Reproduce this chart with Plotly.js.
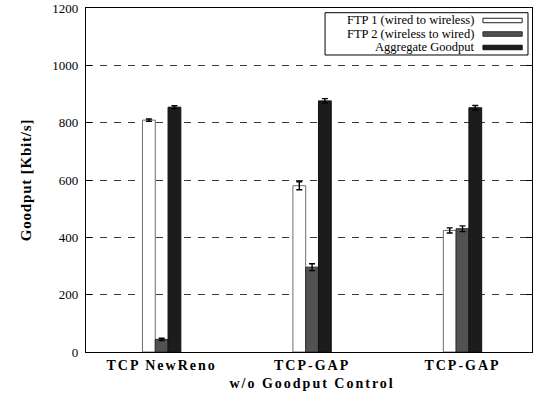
<!DOCTYPE html>
<html>
<head>
<meta charset="utf-8">
<script src="https://cdn.plot.ly/plotly-3.0.1.min.js"></script>
<style>
  html, body { margin: 0; padding: 0; background: #fff; }
  #chart { width: 538px; height: 396px; }
  .xtick text { letter-spacing: 2px; }
  .ytitle { letter-spacing: 0.8px; }
</style>
</head>
<body>
<div id="chart"></div>
<script>
// Goodput of two opposing FTP flows and their sum, per TCP variant
const categories = ["TCP NewReno", "TCP-GAP<br>w/o Goodput Control", "TCP-GAP"];
const seriesNames = ["FTP 1 (wired to wireless)", "FTP 2 (wireless to wired)", "Aggregate Goodput"];
const ftp1 = [809, 580, 424];
const ftp2 = [44, 296, 430];
const aggregate = [854, 876, 852];
const ftp1Err = [4, 14, 9];
const ftp2Err = [4, 12, 10];
const aggregateErr = [5, 8, 8];
const yTicks = [0, 200, 400, 600, 800, 1000, 1200];

const fills = ["#ffffff", "#525252", "#1c1c1c"];
const outlines = ["#6e6e6e", "#2a2a2a", "#111111"];
const values = [ftp1, ftp2, aggregate];
const errs = [ftp1Err, ftp2Err, aggregateErr];

const serif = "Liberation Serif";

const traces = values.map((v, i) => ({
  type: "bar",
  name: seriesNames[i],
  x: categories,
  y: v,
  marker: { color: fills[i], line: { color: outlines[i], width: 1 } },
  error_y: { type: "data", array: errs[i], visible: true, color: "#000", thickness: 1.4, width: 3 },
  showlegend: false
}));

// Key box in the top-right corner: labels right-aligned, swatch to their right
const rowY = [0.9637, 0.9244, 0.8852];
const shapes = [{
  type: "rect", xref: "paper", yref: "paper",
  x0: 0.536, x1: 0.991, y0: 0.8634, y1: 0.9863,
  line: { color: "#000", width: 1 }, fillcolor: "#fff", layer: "above"
}];
const annotations = [];
seriesNames.forEach((n, i) => {
  shapes.push({
    type: "rect", xref: "paper", yref: "paper", layer: "above",
    x0: 0.890, x1: 0.978, y0: rowY[i] - 0.0065, y1: rowY[i] + 0.0065,
    fillcolor: fills[i], line: { color: i === 0 ? "#222" : outlines[i], width: 1 }
  });
  annotations.push({
    xref: "paper", yref: "paper", x: 0.873, y: rowY[i],
    xanchor: "right", yanchor: "middle", showarrow: false, borderpad: 0,
    text: n, font: { family: serif, size: 12.5, color: "#000" }
  });
});

const layout = {
  width: 538, height: 396,
  margin: { l: 86, r: 6, t: 8, b: 44 },
  paper_bgcolor: "#fff", plot_bgcolor: "#fff",
  barmode: "group", bargap: 0.745, bargroupgap: 0,
  font: { family: serif, color: "#000" },
  xaxis: {
    type: "category",
    range: [-0.503, 2.462],
    showline: true, mirror: true, linecolor: "#000", linewidth: 1.2,
    ticks: "", showgrid: false,
    tickfont: { family: serif, size: 14, color: "#000", weight: "bold" }
  },
  yaxis: {
    range: [0, 1200],
    tickvals: yTicks,
    showline: true, mirror: "ticks", linecolor: "#000", linewidth: 1.2,
    ticks: "inside", ticklen: 6, tickcolor: "#000",
    ticklabelstandoff: 4,
    showgrid: true, gridcolor: "#3a3a3a", gridwidth: 1, griddash: "7px,7px",
    zeroline: false,
    tickfont: { family: serif, size: 13, color: "#000" },
    title: { text: "Goodput [Kbit/s]", standoff: 17,
             font: { family: serif, size: 15, color: "#000", weight: "bold" } }
  },
  shapes: shapes,
  annotations: annotations
};

Plotly.newPlot("chart", traces, layout, { displayModeBar: false, staticPlot: true });
</script>
</body>
</html>
